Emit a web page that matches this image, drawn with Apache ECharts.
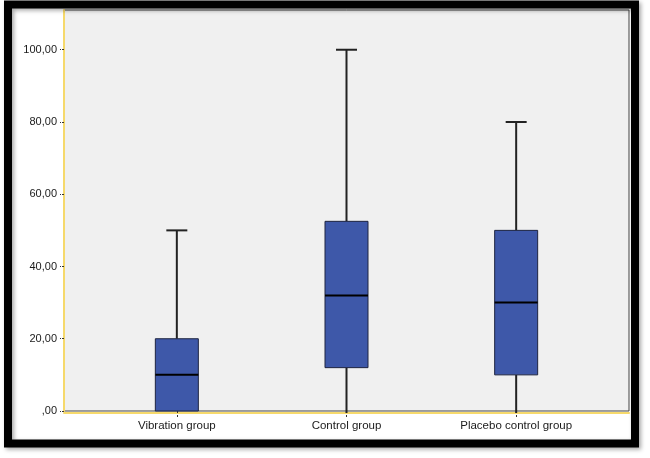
<!DOCTYPE html>
<html>
<head>
<meta charset="utf-8">
<style>
  html, body { margin: 0; padding: 0; background: #fff; }
  #box-chart { width: 650px; height: 458px; }
</style>
<script src="https://cdn.jsdelivr.net/npm/echarts@6/dist/echarts.min.js"></script>
</head>
<body>
<div id="box-chart"></div>
<script>
  // values
  const categories = ['Vibration group', 'Control group', 'Placebo control group'];
  const minVals = [0, 0, 0];
  const q1Vals = [0, 12, 10];
  const medianVals = [10, 32, 30];
  const q3Vals = [20, 52.5, 50];
  const maxVals = [50, 100, 80];
  const yTicks = [0, 20, 40, 60, 80, 100];

  const boxData = categories.map((c, i) => [i, minVals[i], q1Vals[i], medianVals[i], q3Vals[i], maxVals[i]]);

  function drawChart() {
    let chart = echarts.init(document.getElementById('box-chart'));
    const font = 'Arial, "Liberation Sans", sans-serif';
    let options = {
      animation: false,
      grid: [
        // background frame + y axis
        { left: 64, right: 21, top: 10, bottom: 47, show: true, backgroundColor: '#f0f0f0', borderColor: '#444', borderWidth: 1 },
        // boxes
        { left: 92, right: 49, top: 10, bottom: 47 }
      ],
      xAxis: [
        {
          gridIndex: 0, type: 'value', min: 0, max: 1,
          axisLine: { show: true, onZero: false, lineStyle: { color: '#f6d96b', width: 2 } },
          offset: 2,
          axisTick: { show: false }, axisLabel: { show: false }, splitLine: { show: false }
        },
        {
          gridIndex: 1, type: 'category', data: categories,
          axisLine: { show: false },
          axisTick: { show: true, alignWithLabel: true, length: 6, lineStyle: { color: '#333', type: [2, 2] } },
          axisLabel: { color: '#1a1a1a', fontSize: 11.5, fontFamily: font, margin: 9 },
          splitLine: { show: false }
        }
      ],
      yAxis: [
        {
          gridIndex: 0, type: 'value', min: 0, max: 111, interval: 20,
          offset: 3,
          axisLine: { show: true, lineStyle: { color: '#f6d96b', width: 2 } },
          axisTick: { show: true, length: 4, lineStyle: { color: '#333', type: [2, 1] } },
          axisLabel: {
            color: '#1a1a1a', fontSize: 11, fontFamily: font, margin: 4, showMaxLabel: false,
            formatter: v => yTicks.indexOf(v) < 0 ? '' : (v === 0 ? ',00' : v + ',00')
          },
          splitLine: { show: false }
        },
        { gridIndex: 1, type: 'value', min: 0, max: 111, show: false }
      ],
      series: [
        {
          type: 'custom',
          xAxisIndex: 1,
          yAxisIndex: 1,
          data: boxData,
          renderItem: function (params, api) {
            const x = api.value(0);
            const pMin = api.coord([x, api.value(1)]);
            const pQ1 = api.coord([x, api.value(2)]);
            const pMed = api.coord([x, api.value(3)]);
            const pQ3 = api.coord([x, api.value(4)]);
            const pMax = api.coord([x, api.value(5)]);
            const cx = pMed[0];
            const boxW = 43, capW = 21;
            const lineStyle = { stroke: '#222', lineWidth: 2 };
            const kids = [];
            if (pQ1[1] < pMin[1]) {
              kids.push({ type: 'line', shape: { x1: cx, y1: pQ1[1], x2: cx, y2: pMin[1] + 2 }, style: lineStyle });
            }
            kids.push({ type: 'line', shape: { x1: cx, y1: pQ3[1], x2: cx, y2: pMax[1] }, style: lineStyle });
            kids.push({ type: 'line', shape: { x1: cx - capW / 2, y1: pMax[1], x2: cx + capW / 2, y2: pMax[1] }, style: lineStyle });
            kids.push({
              type: 'rect',
              shape: { x: cx - boxW / 2, y: pQ3[1], width: boxW, height: pQ1[1] - pQ3[1] },
              style: { fill: '#3e58a9', stroke: '#1e2440', lineWidth: 1 }
            });
            kids.push({ type: 'line', shape: { x1: cx - boxW / 2, y1: pMed[1], x2: cx + boxW / 2, y2: pMed[1] }, style: { stroke: '#000', lineWidth: 2 } });
            return { type: 'group', children: kids };
          }
        }
      ],
      graphic: [
        {
          type: 'rect', z: 100, silent: true,
          shape: { x: 8, y: 4.5, width: 627, height: 439 },
          style: { fill: 'none', stroke: '#000', lineWidth: 8, shadowColor: 'rgba(0,0,0,0.35)', shadowBlur: 4, shadowOffsetX: 2, shadowOffsetY: 2 }
        }
      ]
    };
    chart.setOption(options);
  }
  drawChart();
</script>
</body>
</html>
